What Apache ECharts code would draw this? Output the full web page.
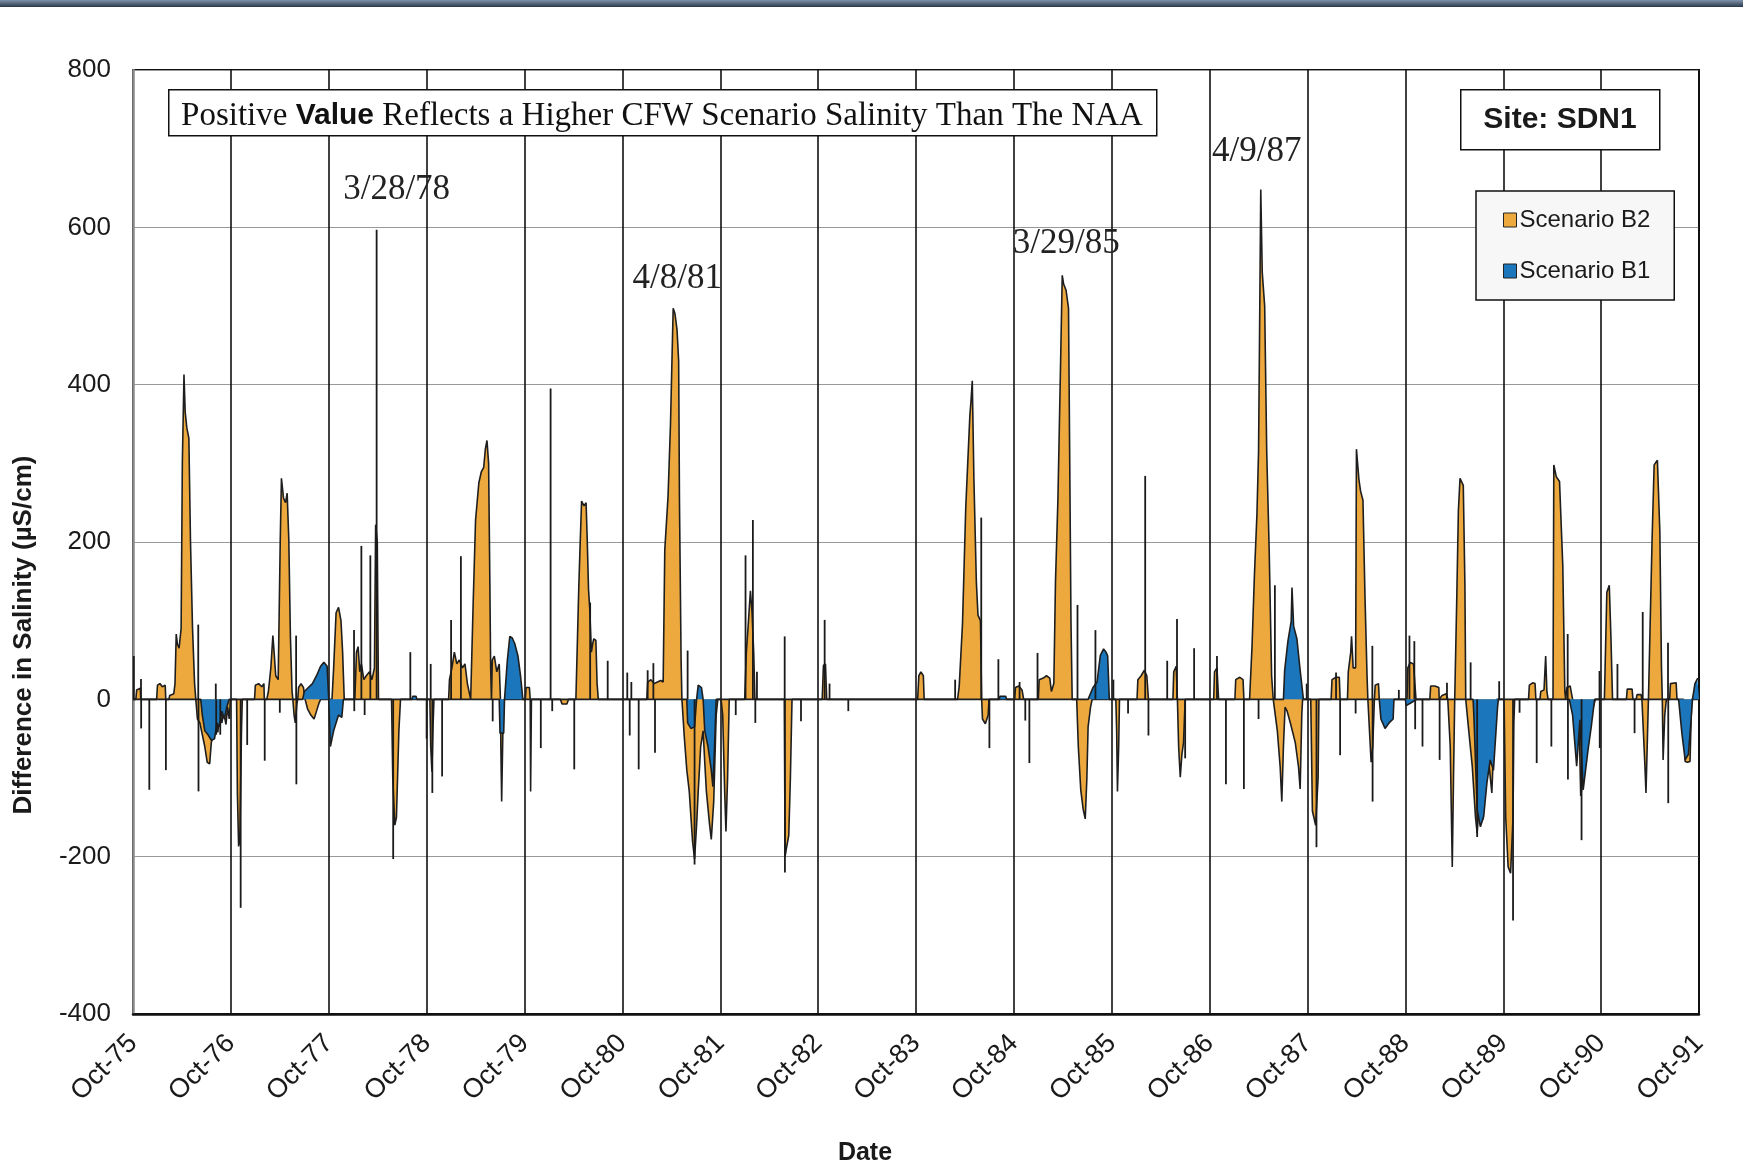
<!DOCTYPE html>
<html>
<head>
<meta charset="utf-8">
<script src="https://cdn.jsdelivr.net/npm/echarts@6/dist/echarts.min.js"></script>
<style>
  html, body { margin: 0; padding: 0; background: #fff; }
  #chart { width: 1743px; height: 1168px; }
</style>
</head>
<body>
<div id="chart"></div>
<script>
// x values are months since 1 Oct 1975; y values are salinity differences in µS/cm.
const tickLabels = ['Oct-75','Oct-76','Oct-77','Oct-78','Oct-79','Oct-80','Oct-81','Oct-82',
  'Oct-83','Oct-84','Oct-85','Oct-86','Oct-87','Oct-88','Oct-89','Oct-90','Oct-91'];

// Scenario B2 filled profile
const scenarioB2 = [
  [0,0],[0.35,0],[0.45,12],[0.9,14],[0.95,0],
  [2.9,0],[3.0,18],[3.3,20],[3.6,16],[3.95,18],[4.02,0],
  [4.4,0],[4.5,5],[5.0,7],[5.15,20],[5.3,83],[5.45,70],[5.65,65],[5.9,90],[6.05,300],[6.25,413],[6.4,365],[6.6,345],[6.85,332],[7.05,200],[7.3,90],[7.55,20],[7.7,0],
  [7.9,-25],[8.2,-30],[8.5,-45],[8.8,-60],[9.1,-80],[9.4,-82],[9.6,-55],[9.9,-45],[10.2,-30],[10.4,-42],[10.6,-20],[10.9,-30],[11.1,-15],[11.4,-32],[11.6,-10],[11.8,-25],[11.95,0],
  [12.7,0],[12.8,-120],[12.95,-187],[13.1,-180],[13.3,-40],[13.4,0],
  [14.9,0],[15.0,18],[15.4,20],[15.8,16],[16.05,20],[16.1,0],
  [16.4,0],[16.6,10],[16.9,40],[17.15,81],[17.3,60],[17.5,30],[17.8,25],[18.05,200],[18.2,281],[18.45,256],[18.7,250],[18.9,262],[19.1,204],[19.3,80],[19.5,10],[19.6,0],
  [19.75,-20],[19.9,-30],[20.1,-5],[20.2,0],[20.3,15],[20.6,20],[20.9,15],[21.1,0],
  [21.4,-12],[21.8,-20],[22.2,-25],[22.5,-15],[22.8,-5],[23.0,0],
  [24.4,0],[24.6,40],[24.9,110],[25.2,117],[25.5,100],[25.7,60],[25.9,0],
  [27.2,0],[27.4,60],[27.6,67],[27.8,35],[28.0,45],[28.3,25],[28.6,30],[29.0,35],[29.3,25],[29.6,40],[29.75,222],[29.95,200],[30.05,60],[30.1,0],
  [31.7,0],[31.85,-100],[32.1,-160],[32.3,-150],[32.6,-40],[32.8,0],
  [36.4,0],[36.5,-60],[36.65,-92],[36.8,-30],[36.9,0],
  [38.7,0],[38.8,25],[39.1,40],[39.4,60],[39.7,45],[40.0,50],[40.4,40],[40.7,45],[41.0,20],[41.4,0],
  [41.7,120],[42.0,228],[42.4,275],[42.7,289],[43.0,295],[43.2,318],[43.4,329],[43.6,300],[43.75,150],[43.85,40],[43.95,0],
  [44.05,50],[44.3,55],[44.6,35],[44.9,45],[45.05,0],[45.1,-60],[45.2,-130],[45.35,-40],[45.5,0],
  [48.1,0],[48.2,15],[48.6,15],[48.7,0],[48.75,-117],[48.85,0],
  [52.4,0],[52.6,-6],[53.2,-6],[53.4,0],
  [54.3,0],[54.5,80],[54.65,140],[54.8,190],[55.0,252],[55.3,246],[55.55,250],[55.7,200],[55.85,140],[56.0,115],[56.2,60],[56.35,70],[56.5,77],[56.75,75],[56.9,20],[57.05,0],
  [63.0,0],[63.1,22],[63.5,25],[63.9,20],[64.3,22],[64.7,24],[65.0,22],[65.2,190],[65.6,258],[65.9,350],[66.1,440],[66.23,497],[66.45,490],[66.7,470],[66.9,430],[67.0,252],[67.2,50],[67.3,0],
  [67.6,-49],[67.9,-90],[68.2,-117],[68.6,-180],[68.85,-203],[69.1,-160],[69.3,-117],[69.6,-60],[69.9,-40],[70.1,-80],[70.3,-117],[70.7,-160],[70.9,-178],[71.2,-130],[71.5,-20],[71.7,0],
  [72.1,0],[72.3,-20],[72.55,-120],[72.7,-168],[72.9,-100],[73.1,0],
  [75.0,0],[75.2,60],[75.4,90],[75.7,138],[75.9,110],[76.1,60],[76.25,0],
  [79.85,0],[79.95,-200],[80.1,-190],[80.4,-173],[80.6,-100],[80.8,0],
  [84.5,0],[84.65,43],[84.9,45],[85.05,0],
  [96.2,0],[96.35,30],[96.6,35],[96.9,30],[97.0,0],
  [101.1,0],[101.3,17],[101.7,96],[102.1,244],[102.6,360],[102.75,380],[102.9,405],[103.1,280],[103.4,149],[103.6,107],[103.9,100],[104.05,0],
  [104.15,-25],[104.5,-31],[104.85,-20],[104.95,0],
  [108.1,0],[108.2,15],[108.6,17],[109.0,12],[109.2,0],
  [111.0,0],[111.1,25],[111.6,27],[112.0,30],[112.4,27],[112.6,10],[112.9,20],[113.1,149],[113.4,254],[113.7,413],[113.93,539],[114.1,528],[114.4,520],[114.7,497],[114.85,300],[115.0,100],[115.15,0],
  [115.7,0],[115.9,-60],[116.2,-115],[116.5,-140],[116.75,-152],[116.95,-100],[117.1,-35],[117.4,-10],[117.6,0],
  [120.5,0],[120.6,-40],[120.7,-117],[120.85,-60],[120.95,0],
  [123.1,0],[123.2,25],[123.6,30],[124.0,37],[124.3,30],[124.5,0],
  [127.5,0],[127.6,35],[127.9,42],[128.05,0],[128.2,-60],[128.4,-99],[128.6,-70],[128.8,-55],[129.0,0],
  [132.5,0],[132.6,35],[132.9,40],[133.1,0],
  [135.1,0],[135.2,25],[135.7,28],[136.1,25],[136.2,0],
  [136.9,0],[137.2,68],[137.5,160],[137.8,235],[138.0,315],[138.15,500],[138.27,648],[138.45,543],[138.75,500],[139.0,315],[139.3,191],[139.6,30],[139.8,0],
  [140.3,-40],[140.65,-86],[140.85,-130],[141.05,-60],[141.25,-10],[141.5,-15],[141.9,-30],[142.5,-55],[142.9,-86],[143.1,-114],[143.3,-20],[143.4,0],
  [144.4,0],[144.6,-142],[145.0,-160],[145.3,-100],[145.4,0],
  [146.9,0],[147.0,25],[147.5,28],[147.9,28],[148.0,0],
  [148.9,0],[149.0,35],[149.3,60],[149.4,80],[149.6,40],[149.9,40],[150.0,318],[150.3,280],[150.5,265],[150.8,253],[151.05,130],[151.3,30],[151.4,0],
  [151.6,-40],[151.8,-80],[152.0,-60],[152.2,0],[152.3,18],[152.7,20],[152.8,0],
  [156.2,0],[156.3,40],[156.6,47],[157.0,45],[157.3,0],
  [159.0,0],[159.1,17],[159.6,17],[160.1,15],[160.15,0],
  [160.5,5],[161.0,7],[161.2,0],
  [161.5,-60],[161.75,-213],[161.9,-100],[162.05,0],
  [162.3,128],[162.5,240],[162.7,281],[163.1,272],[163.3,145],[163.4,0],
  [163.8,-43],[164.2,-85],[164.6,-150],[164.8,-170],[165.0,-140],[165.2,-150],[165.5,-153],[165.9,-100],[166.2,-77],[166.6,-119],[166.9,-40],[167.2,0],
  [168.1,0],[168.3,-150],[168.6,-213],[168.9,-221],[169.2,-150],[169.3,-30],[169.4,0],
  [171.1,0],[171.2,18],[171.6,21],[171.9,20],[172.0,0],
  [172.5,0],[172.6,10],[173.0,12],[173.2,55],[173.35,10],[173.5,0],
  [174.1,0],[174.2,298],[174.5,283],[174.9,277],[175.3,170],[175.55,10],[175.65,0],
  [175.8,15],[176.2,17],[176.5,0],
  [177.3,-30],[177.5,-123],[177.8,-100],[178.2,-60],[178.6,-40],[178.9,-15],[179.3,0],
  [180.4,0],[180.7,136],[181.0,145],[181.2,80],[181.4,0],
  [183.1,0],[183.2,13],[183.8,13],[183.9,0],
  [184.3,0],[184.4,6],[184.9,6],[185.0,0],
  [185.35,-80],[185.5,-119],[185.65,-60],[185.8,0],
  [186.0,0],[186.25,204],[186.5,298],[186.9,304],[187.2,213],[187.4,40],[187.5,0],
  [187.6,-77],[187.8,-20],[188.0,0],
  [188.4,0],[188.5,20],[189.2,21],[189.3,0],
  [190.1,0],[190.3,-79],[190.6,-80],[190.9,-79],[191.1,0],
  [192,0]
];

// Scenario B1 filled profile
const scenarioB1 = [
  [0,0],
  [8.3,0],[8.5,-20],[8.8,-40],[9.2,-45],[9.6,-52],[10.0,-50],[10.3,-30],[10.6,-35],[10.9,-15],[11.2,-25],[11.5,-10],[11.8,0],
  [20.8,0],[21.0,10],[21.5,15],[22.0,20],[22.5,30],[23.0,42],[23.4,47],[23.8,42],[24.0,0],[24.2,-60],[24.6,-40],[25.2,-20],[25.6,-23],[25.8,0],
  [34.2,0],[34.3,4],[34.7,4],[34.8,0],
  [44.9,0],[45.0,-43],[45.45,-43],[45.55,0],[45.9,50],[46.2,80],[46.5,78],[46.8,71],[47.2,55],[47.5,31],[47.8,0],
  [67.9,0],[68.0,-30],[68.4,-37],[68.85,-35],[69.1,0],[69.3,18],[69.7,15],[69.9,0],[70.1,-40],[70.5,-60],[70.9,-90],[71.1,-111],[71.3,-60],[71.5,0],
  [106.2,0],[106.3,4],[107.0,4],[107.1,0],
  [117.1,0],[117.7,15],[118.2,22],[118.6,56],[119.0,64],[119.3,60],[119.5,55],[119.7,0],
  [141.05,0],[141.2,37],[141.6,74],[142.0,99],[142.1,142],[142.3,93],[142.7,77],[143.1,37],[143.5,0],
  [152.8,0],[153.0,-25],[153.5,-37],[154.0,-30],[154.5,-25],[154.6,0],
  [156.0,0],[156.1,-8],[156.6,-5],[157.4,0],
  [164.3,0],[164.4,-21],[164.8,-140],[165.2,-162],[165.6,-149],[166.0,-106],[166.4,-77],[166.8,-90],[167.3,-10],[167.4,0],
  [176.1,0],[176.5,-20],[177.0,-85],[177.4,-26],[177.8,-115],[178.4,-64],[178.8,-34],[179.2,0],
  [189.5,0],[189.9,-43],[190.3,-77],[190.7,-70],[191.0,-30],[191.2,0],[191.5,20],[191.8,26],[192,26]
];

// Single-day excursions drawn as thin vertical strokes
const dailySpikes = [
  [0.1,55],[0.98,26],[1.0,-37],[2.0,-115],[4.03,-90],[8.0,95],[8.03,-117],[10.15,20],[10.2,-45],[10.7,-45],
  [13.2,-265],[14.0,-58],[16.15,-78],[18.0,-17],[20.0,81],[20.03,-108],
  [27.1,88],[27.13,-15],[28.0,195],[28.4,-20],[29.1,183],[29.87,597],[31.9,-203],[34.0,60],[36.0,-50],
  [36.5,45],[36.7,-119],[37.9,-98],[39.0,101],[40.2,182],[44.1,-28],[50.0,-62],
  [51.2,395],[51.4,-15],[54.1,-89],[56.05,123],[58.2,49],
  [60.6,34],[60.9,-46],[61.1,22],[62.0,-89],[63.1,37],[63.8,46],[64.0,-68],[68.0,62],[68.85,-210],
  [73.9,-20],[75.1,183],[76.0,228],[76.3,-30],[76.5,35],[79.9,80],[79.93,-220],[81.9,-28],
  [84.8,101],[85.4,20],[87.7,-15],
  [100.8,25],[104.0,231],[105.0,-62],[106.1,51],
  [108.7,22],[109.4,-27],[109.9,-81],[110.9,59],[115.8,120],[118.0,88],
  [120.2,25],[122.0,-18],[124.1,284],[124.5,-46],[126.8,49],[128.0,102],[129.0,-75],[130.1,65],
  [132.9,55],[134.0,-108],[136.2,-114],[138.0,-25],[140.0,145],[143.9,20],
  [145.1,-188],[147.5,34],[148.0,-71],[149.9,-18],[151.95,68],[151.98,-130],[155.2,12],
  [156.5,81],[157.1,74],[157.2,-38],[158.1,-60],[160.2,-77],[161.1,21],
  [164.0,47],[164.8,-175],[167.5,23],
  [169.2,-281],[170.0,-17],[172.1,-81],[173.9,-60],[175.9,83],[175.93,-102],[177.6,-179],[179.8,36],[179.83,-62],
  [182.0,45],[184.1,-43],[185.1,111],[188.2,72],[188.23,-132]
];

// Dated peak callouts: [month, value, label]
const peakNotes = [
  [29.87, 597, '3/28/78'],
  [66.23, 497, '4/8/81'],
  [113.93, 539, '3/29/85'],
  [138.27, 648, '4/9/87']
];
// Label placement relative to each peak, in pixels
const peakNoteOffsets = [[20, -40], [4, -30], [4, -32], [-4, -38]];

const ORANGE = '#EDA93E';
const BLUE = '#1B76BC';
const OUTLINE = '#1e1e1e';
const SANS = 'Liberation Sans, Arial, sans-serif';
const SERIF = 'Liberation Serif, Times New Roman, serif';

const chart = echarts.init(document.getElementById('chart'), null, { renderer: 'canvas' });

chart.setOption({
  animation: false,
  backgroundColor: '#ffffff',
  grid: {
    left: 133, top: 70, width: 1566, height: 944,
    show: true, borderColor: '#111', borderWidth: 2, backgroundColor: 'transparent'
  },
  xAxis: {
    type: 'value', min: 0, max: 192, interval: 12,
    axisLine: { show: true, onZero: false, lineStyle: { color: '#111', width: 2.5 } },
    axisTick: { show: false },
    splitLine: { show: true, lineStyle: { color: '#111', width: 1.6 } },
    axisLabel: {
      rotate: 45, margin: 25, fontFamily: SANS, fontSize: 27, color: '#1a1a1a',
      formatter: v => tickLabels[Math.round(v / 12)] || ''
    }
  },
  yAxis: {
    type: 'value', min: -400, max: 800, interval: 200,
    axisLine: { show: true, onZero: false, lineStyle: { color: '#8a8a8a', width: 2.5 } },
    axisTick: { show: false },
    splitLine: { show: true, lineStyle: { color: '#999', width: 1 } },
    axisLabel: { margin: 22, fontFamily: SANS, fontSize: 26, color: '#1a1a1a' }
  },
  legend: {
    orient: 'vertical', left: 1476, top: 191,
    padding: [17, 24, 17, 27], itemGap: 27,
    itemWidth: 13, itemHeight: 14, icon: 'rect',
    backgroundColor: '#f7f7f7', borderColor: '#111', borderWidth: 1.5, borderRadius: 0,
    textStyle: { fontFamily: SANS, fontSize: 24, color: '#1a1a1a', padding: [0, 0, 0, -2] },
    selectedMode: false,
    data: [
      { name: 'Scenario B2', itemStyle: { color: ORANGE, borderColor: '#222', borderWidth: 1 } },
      { name: 'Scenario B1', itemStyle: { color: BLUE, borderColor: '#222', borderWidth: 1 } }
    ]
  },
  series: [
    {
      name: 'Scenario B2', type: 'line', data: scenarioB2, z: 2,
      showSymbol: false, symbol: 'none',
      itemStyle: { color: ORANGE },
      lineStyle: { color: OUTLINE, width: 1.6 },
      areaStyle: { color: ORANGE, opacity: 1 },
      markPoint: {
        symbol: 'circle', symbolSize: 1,
        itemStyle: { color: 'rgba(0,0,0,0)' },
        label: { show: true, position: 'inside', formatter: '{b}', fontFamily: SERIF, fontSize: 35, color: '#222' },
        data: peakNotes.map((p, i) => ({
          name: p[2], coord: [p[0], p[1]],
          label: { offset: peakNoteOffsets[i] }
        }))
      }
    },
    {
      name: 'Scenario B1', type: 'line', data: scenarioB1, z: 3,
      showSymbol: false, symbol: 'none',
      itemStyle: { color: BLUE },
      lineStyle: { color: OUTLINE, width: 1.6 },
      areaStyle: { color: BLUE, opacity: 1 }
    },
    {
      name: 'daily', type: 'bar', data: dailySpikes, z: 4,
      barWidth: 1.8, itemStyle: { color: '#1a1a1a' }
    }
  ],
  graphic: [
    { type: 'rect', left: 0, top: 0, shape: { width: 1743, height: 7 },
      style: { fill: new echarts.graphic.LinearGradient(0, 0, 0, 1, [
        { offset: 0, color: '#7f93ab' }, { offset: 1, color: '#2a384a' }]) } },
    // note box
    { type: 'rect', left: 168, top: 89, shape: { width: 988, height: 46 },
      style: { fill: '#fff', stroke: '#111', lineWidth: 1.5 }, z: 10 },
    { type: 'text', x: 662, y: 116, z: 11,
      style: {
        text: '{s|Positive }{b|Value}{s| Reflects a Higher CFW Scenario Salinity Than The NAA}',
        align: 'center', verticalAlign: 'middle',
        rich: {
          s: { fontFamily: SERIF, fontSize: 33, fill: '#111' },
          b: { fontFamily: SANS, fontSize: 30, fontWeight: 'bold', fill: '#111' }
        }
      } },
    // site box
    { type: 'rect', left: 1460, top: 89, shape: { width: 199, height: 60 },
      style: { fill: '#fff', stroke: '#111', lineWidth: 1.5 }, z: 10 },
    { type: 'text', x: 1560, y: 120, z: 11,
      style: { text: 'Site: SDN1', align: 'center', verticalAlign: 'middle',
        fontFamily: SANS, fontSize: 30, fontWeight: 'bold', fill: '#1a1a1a' } },
    // axis titles
    { type: 'text', x: 24, y: 635, rotation: Math.PI / 2, z: 11,
      style: { text: 'Difference in Salinity (µS/cm)', align: 'center', verticalAlign: 'middle',
        fontFamily: SANS, fontSize: 26, fontWeight: 'bold', fill: '#1a1a1a' } },
    { type: 'text', x: 865, y: 1153, z: 11,
      style: { text: 'Date', align: 'center', verticalAlign: 'middle',
        fontFamily: SANS, fontSize: 25, fontWeight: 'bold', fill: '#1a1a1a' } }
  ]
});
</script>
</body>
</html>
